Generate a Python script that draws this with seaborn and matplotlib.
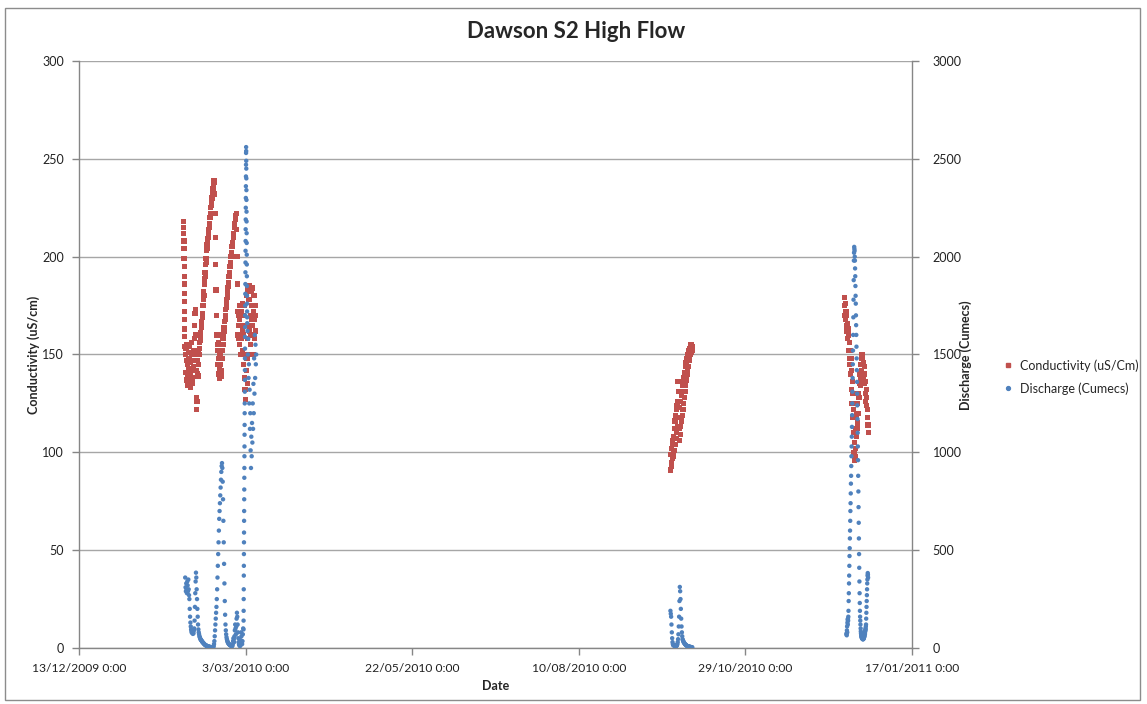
import pandas as pd
import matplotlib.pyplot as plt
import matplotlib.dates as mdates
from matplotlib.lines import Line2D
from matplotlib.patches import Rectangle
import seaborn as sns

# Conductivity (uS/cm) - logger runs
cond_feb_drop_start = "2010-02-01 06:00"
cond_feb_drop = [218, 215, 212, 208, 204, 199, 195, 190, 186, 181, 177, 172, 168, 163, 159, 154]

cond_feb_start = "2010-02-02 00:00"
cond_feb = [
    150, 141, 153, 137, 147, 155, 139, 145, 134, 151, 143, 148,
    136, 154, 140, 146, 133, 150, 142, 156, 138, 147, 135, 152,
    144, 150, 158, 165, 171, 173, 160, 142, 128, 122, 126, 140,
    147, 139, 152, 145, 150, 156, 153, 158, 161, 157, 164, 167,
    165, 171, 169, 175, 178, 182, 180, 186, 189, 192, 190, 196,
    199, 197, 203, 206, 204, 209, 212, 210, 214, 217, 215, 220,
    222, 220, 225, 228, 226, 230, 233, 231, 235, 237, 236, 239,
    238, 232, 222, 210, 196, 183, 170, 160, 152, 145, 155, 148,
    140, 156, 143, 138, 150, 160, 145, 139, 152, 142, 148, 155,
    152, 158, 155, 161, 164, 162, 167, 170, 168, 173, 176, 174,
    178, 181, 179, 184, 187, 185, 190, 192, 190, 195, 197, 196,
    200, 202, 200, 205, 207, 206, 210, 212, 211, 215, 217, 216,
    219, 221, 220, 222, 214, 200, 186, 172, 160, 165, 158, 170,
    155, 168, 175, 160, 150, 172, 165, 158, 176, 152, 163, 170,
    145, 160, 138, 175, 132, 150, 127, 165, 142, 180, 148, 135,
    158, 183, 165, 150, 178, 162, 185, 155, 170, 160, 182, 168,
    175, 160, 184, 165, 150, 172, 180, 158, 168, 175, 162, 170,
]

cond_sep_start = "2010-09-23 00:00"
cond_sep = [
    91, 99, 93, 102, 95, 104, 97, 106, 100,
    108, 98, 112, 101, 116, 104, 119, 107, 122, 110, 124, 113,
    126, 136, 131, 118, 112,
    106, 123, 109, 126, 113, 129, 116, 131, 119, 134, 122, 136,
    125, 138, 128, 141, 131, 144, 134, 146, 137, 148, 140, 150,
    142, 151, 144, 152, 147, 153, 149, 154, 150, 155, 151, 155, 152, 154,
]

cond_dec_start = "2010-12-15 12:00"
cond_dec = [
    175, 179, 170, 176, 168, 172, 165, 170, 162,
    166, 158, 163, 152, 160, 148, 156, 145, 152,
    140, 148, 132, 142, 125, 136, 118, 130, 110, 122, 100, 96,
    105, 98, 112, 102, 118, 108, 120, 112, 125, 115, 128, 120,
    130, 135, 128, 140, 134, 145, 138, 148, 142, 150, 145, 148, 140, 146,
    138, 144, 135, 140, 130, 136, 126, 132, 124, 128, 122, 118, 114, 110,
]

# Discharge (cumecs)
dis_feb_start = "2010-02-02 00:00"
dis_feb = [
    360, 310, 290, 330, 300, 280, 340, 320, 290, 350, 300, 270,
    250, 200, 160, 130, 110, 95, 85, 78, 90, 80, 72, 85,
    75, 90, 100, 140, 210, 280, 340, 385, 360, 300, 250, 200,
    160, 120, 95, 80, 70, 60, 55, 50, 45, 42, 40, 38,
    35, 32, 30, 28, 26, 24, 22, 20, 18, 17, 15, 14,
    13, 12, 11, 10, 9, 8, 8, 7, 7, 6, 6, 5,
    5, 5, 4, 4, 4, 3, 3, 3, 4, 6, 10, 20,
    35, 60, 90, 120, 150, 180, 210, 250, 300, 360, 420, 480,
    540, 600, 660, 700, 740, 780, 820, 860, 900, 930, 945, 920,
    850, 760, 650, 540, 430, 330, 240, 170, 120, 90, 70, 55,
    45, 38, 32, 28, 25, 22, 20, 18, 16, 15, 14, 13,
    12, 11, 10, 10, 12, 20, 35, 50, 45, 30, 60, 90,
    120, 100, 70, 110, 150, 180, 160, 120, 80, 50, 30, 20,
    15, 12, 10, 14, 40, 80, 60, 30, 20, 35, 70, 100,
]

dis_mar_peak_start = "2010-03-02 00:00"
dis_mar_peak = [
    95, 140, 190, 250, 300, 370, 420, 480, 540, 590,
    650, 700, 760, 810, 870, 920, 980, 1030, 1090, 1140,
    1200, 1250, 1310, 1370, 1420, 1480, 1530, 1590, 1640, 1700,
    1750, 1810, 1860, 1920, 1970, 2030, 2080, 2140, 2190, 2250,
    2300, 2360, 2410, 2470, 2530, 2560,
    2540, 2490, 2450, 2400, 2340, 2290, 2230, 2180, 2120, 2070,
    2010, 1960, 1900, 1850, 1800, 1760, 1720, 1690, 1660,
]

dis_mar_start = "2010-03-03 22:00"
dis_mar = [
    1620, 1500, 1580, 1380, 1450, 1250, 1320, 1120, 1200, 1010, 920, 1080, 980,
    1150, 1050, 1250, 1120, 1350, 1200, 1480, 1300, 1600, 1380, 1550, 1450, 1500,
]

dis_sep_start = "2010-09-23 00:00"
dis_sep = [
    190, 175, 160, 120, 80, 50, 30, 20, 15,
    14, 13, 12, 12, 11, 11, 10, 10, 10, 12, 15, 20,
    30, 45, 70, 110, 160,
    240, 312, 290, 250, 200, 150, 110, 80, 60, 45, 40, 35,
    30, 28, 25, 22, 20, 18, 16, 15, 13, 12, 11, 10,
    9, 8, 8, 7, 7, 6, 6, 5, 5, 5, 4, 4, 4, 3,
]

dis_dec_start = "2010-12-16 12:00"
dis_dec = [
    70, 75, 65, 90, 110, 80, 130, 145, 120, 150, 140, 160,
    190, 240, 280, 330, 370, 420, 470, 510, 560, 600, 650, 700,
    740, 790, 840, 880, 930, 980, 1030, 1080, 1130, 1190, 1250, 1310,
    1380, 1450, 1520, 1600, 1690, 1780, 1880, 1980,
    2020, 2050, 2040, 2030, 2000, 1980,
    1940, 1900, 1850, 1800, 1760, 1700, 1650, 1600, 1540, 1480, 1420, 1360,
    1300, 1240, 1170, 1100, 1030, 960, 880, 800, 720, 640, 560, 480,
    410, 340, 280, 230, 190, 160, 140, 120,
    100, 85, 75, 68, 62, 58, 55, 52, 50, 48, 50, 47,
    45, 48, 44, 46, 50, 55, 48, 52, 60, 70, 58, 65,
    80, 72, 90, 85, 100, 95, 110, 120,
    150, 180, 210, 240, 270, 300, 330, 350, 370, 383, 375, 360,
]

x_start, x_end = "2009-12-13", "2011-01-17"
red = "#C0504D"
blue = "#4F81BD"


def run(start, step, values):
    return pd.DataFrame({"date": pd.date_range(start, periods=len(values), freq=step),
                         "value": values})


cond = pd.concat([
    run(cond_feb_drop_start, "1h", cond_feb_drop),
    run(cond_feb_start, "4h", cond_feb),
    run(cond_sep_start, "4h", cond_sep),
    run(cond_dec_start, "4h", cond_dec),
], ignore_index=True)

dis = pd.concat([
    run(dis_feb_start, "4h", dis_feb),
    run(dis_mar_peak_start, "40min", dis_mar_peak),
    run(dis_mar_start, "4h", dis_mar),
    run(dis_sep_start, "4h", dis_sep),
    run(dis_dec_start, "2h", dis_dec),
], ignore_index=True)

sns.set_style("white")
plt.rcParams["font.family"] = ["Lato", "DejaVu Sans"]

W, H = 1147, 704
fig = plt.figure(figsize=(W / 100, H / 100), dpi=100)
ax = fig.add_axes([79 / W, 1 - 648 / H, (912 - 79) / W, (648 - 61) / H])
ax2 = ax.twinx()

sns.scatterplot(data=cond, x="date", y="value", ax=ax, marker="s", s=14,
                color=red, edgecolor="none", linewidth=0)
sns.scatterplot(data=dis, x="date", y="value", ax=ax2, marker="o", s=10,
                color=blue, edgecolor="none", linewidth=0)

axis_grey = "#868686"
ax.set_xlim(pd.Timestamp(x_start), pd.Timestamp(x_end))
ax.set_ylim(0, 300)
ax2.set_ylim(0, 3000)
ax.set_yticks(range(0, 301, 50))
ax2.set_yticks(range(0, 3001, 500))
ax.set_xticks(pd.date_range(x_start, x_end, freq="80D"))


def date_label(x, pos):
    d = mdates.num2date(x)
    return f"{d.day}/{d.month:02d}/{d.year} {d.hour}:{d.minute:02d}"


ax.xaxis.set_major_formatter(plt.FuncFormatter(date_label))
ax.yaxis.grid(True, color="#a6a6a6", linewidth=1)
ax.set_axisbelow(True)
ax.set_xlabel("")
ax.set_ylabel("")
ax2.set_ylabel("")

for a in (ax, ax2):
    for s in a.spines.values():
        s.set_visible(False)
ax.spines["left"].set_visible(True)
ax.spines["bottom"].set_visible(True)
ax2.spines["right"].set_visible(True)
for s in (ax.spines["left"], ax.spines["bottom"], ax2.spines["right"]):
    s.set_color(axis_grey)
    s.set_linewidth(1)

ax.tick_params(axis="both", direction="out", length=5, width=1, color=axis_grey,
               labelsize=9, labelcolor="#222222", left=True, bottom=True)
ax.tick_params(axis="y", pad=6)
ax.tick_params(axis="x", pad=6, labelsize=8.7)
ax2.tick_params(axis="y", direction="out", length=5, width=1, color=axis_grey,
                labelsize=9, labelcolor="#222222", right=True, pad=10)

fig.text(576 / W, 1 - 32 / H, "Dawson S2 High Flow", ha="center", va="center",
         fontsize=16, fontweight="bold")
fig.text(34 / W, 1 - 355 / H, "Conductivity (uS/cm)", rotation=90, ha="center",
         va="center", fontsize=9, fontweight="bold")
fig.text(966 / W, 1 - 355 / H, "Discharge (Cumecs)", rotation=90, ha="center",
         va="center", fontsize=9, fontweight="bold")
fig.text(496 / W, 1 - 686 / H, "Date", ha="center", va="center",
         fontsize=9, fontweight="bold")

handles = [
    Line2D([], [], marker="s", linestyle="none", color=red, markersize=3),
    Line2D([], [], marker="o", linestyle="none", color=blue, markersize=2.8),
]
fig.legend(handles, ["Conductivity (uS/Cm)", "Discharge (Cumecs)"],
           loc="center left", bbox_to_anchor=(992 / W, 1 - 377 / H), frameon=False,
           fontsize=9, handlelength=0.8, handletextpad=0.5, labelspacing=0.85)

fig.patches.append(Rectangle((5 / W, 4 / H), 1135 / W, 692 / H, transform=fig.transFigure,
                             fill=False, edgecolor="#8c8c8c", linewidth=1))

fig.savefig("out.png", dpi=100)
